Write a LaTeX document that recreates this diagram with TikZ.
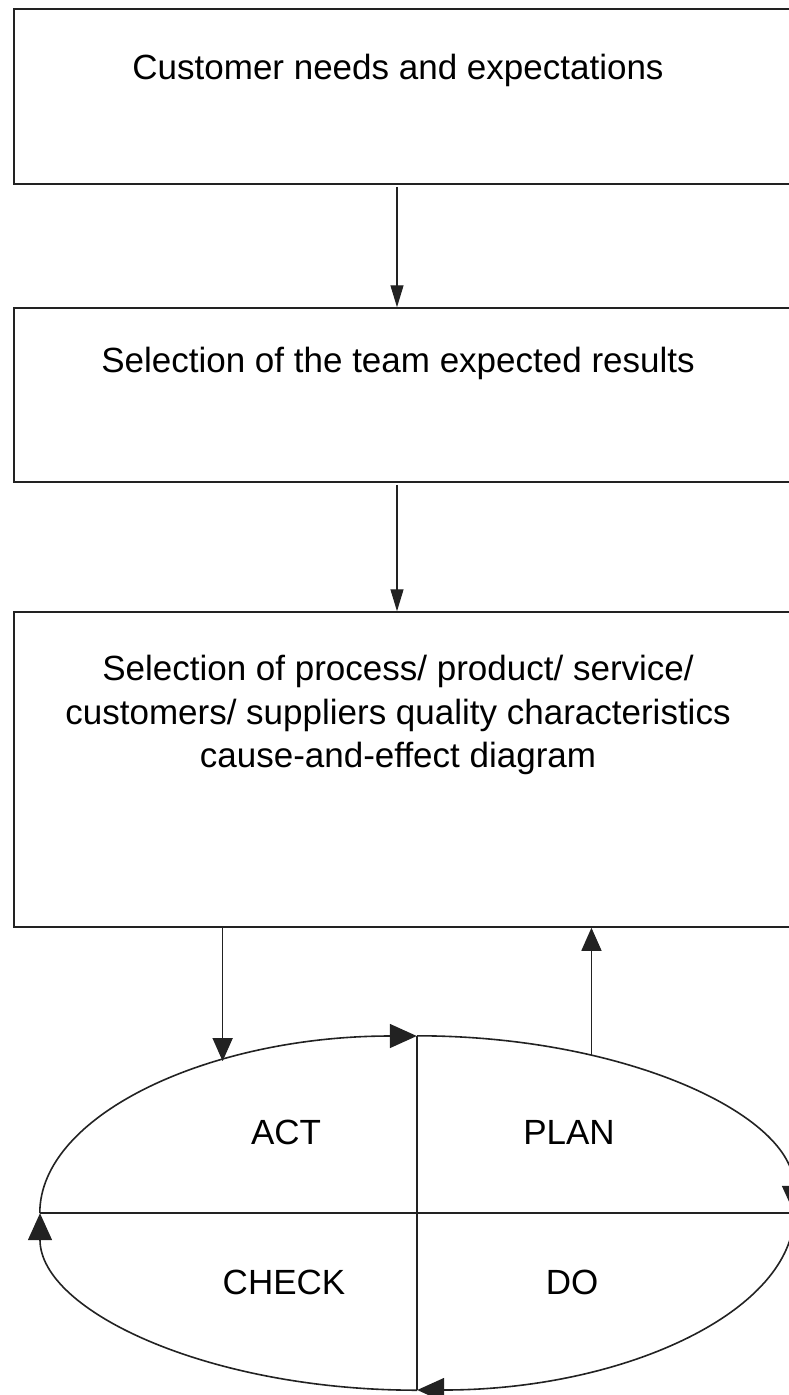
\documentclass[tikz,border=0pt]{standalone}
\usepackage{fontspec}
\setmainfont{Liberation Sans}
\usepackage{xcolor}
\usetikzlibrary{arrows.meta,shapes.geometric}
\definecolor{pdcaInk}{HTML}{222222}

\begin{document}
\begin{tikzpicture}[x=1pt,y=-1pt,
  stagebox/.style={draw=pdcaInk,line width=1.5pt,inner sep=0pt,minimum width=800pt},
  stagetext/.style={text=black,inner sep=0pt,font=\fontsize{35}{43.5}\selectfont,align=center},
  smalltip/.style={-{Triangle[length=22pt,width=13pt]},pdcaInk,line width=1.2pt},
  bigtip/.style={-{Triangle[length=23pt,width=20pt]},pdcaInk,line width=1.4pt},
  cyclearc/.style={-{Triangle[length=27pt,width=24pt]},pdcaInk,line width=1.6pt}]
  \useasboundingbox (0,0) rectangle (789,1395);
  \clip (0,0) rectangle (789,1395);
  % boxes
  \node[stagebox,minimum height=175pt] (needs) at (414,96.5) {};
  \node[stagebox,minimum height=174pt] (team) at (414,395) {};
  \node[stagebox,minimum height=315pt] (select) at (414,769.5) {};
  \node[stagetext,anchor=base] (needstext) at (398,79) {Customer needs and expectations};
  \node[stagetext,anchor=base] (teamtext) at (398,372) {Selection of the team expected results};
  \node[stagetext,anchor=north] (selecttext) at (398,655) {Selection of process/ product/ service/\\customers/ suppliers quality characteristics\\cause-and-effect diagram};
  \draw[smalltip,shorten <=2pt] ([xshift=-17pt]needs.south) -- ([xshift=-17pt]team.north);
  \draw[smalltip,shorten <=2pt] ([xshift=-17pt]team.south) -- ([xshift=-17pt]select.north);
  % PDCA cycle
  \node[ellipse,inner sep=0pt,minimum width=754pt,minimum height=354pt] (pdca) at (417,1213) {};
  \draw[pdcaInk,line width=1.6pt] (pdca.north) -- (pdca.south);
  \draw[pdcaInk,line width=1.6pt] (pdca.west) -- (pdca.east);
  \draw[cyclearc] (pdca.west) arc[start angle=180,end angle=270,x radius=377,y radius=177];
  \draw[cyclearc] (pdca.north) arc[start angle=270,end angle=360,x radius=377,y radius=177];
  \draw[cyclearc] (pdca.east) arc[start angle=0,end angle=90,x radius=377,y radius=177];
  \draw[cyclearc] (pdca.south) arc[start angle=90,end angle=180,x radius=377,y radius=177];
  \draw[bigtip] (pdca.142.7 |- select.south) -- (pdca.142.7);
  \draw[bigtip] (pdca.42.9) -- (pdca.42.9 |- select.south);
  \node[stagetext] (act) at (286,1132) {ACT};
  \node[stagetext] (plan) at (569,1132) {PLAN};
  \node[stagetext] (check) at (284,1282) {CHECK};
  \node[stagetext] (do) at (572,1282) {DO};
\end{tikzpicture}
\end{document}
